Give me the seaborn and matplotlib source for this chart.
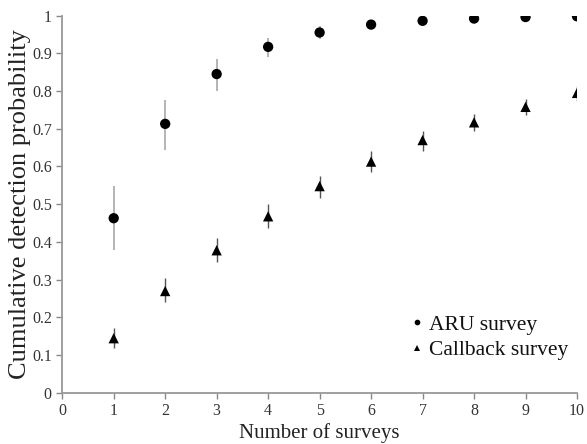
import numpy as np
import pandas as pd
import seaborn as sns
import matplotlib.pyplot as plt

# data
surveys = [1, 2, 3, 4, 5, 6, 7, 8, 9, 10]
aru_p = [0.463, 0.713, 0.845, 0.917, 0.955, 0.976, 0.986, 0.992, 0.996, 0.998]
aru_lo = [0.378, 0.645, 0.800, 0.890, 0.937, 0.966, 0.980, 0.988, 0.994, 0.997]
aru_hi = [0.549, 0.775, 0.885, 0.940, 0.971, 0.984, 0.991, 0.995, 0.998, 0.999]
call_p = [0.145, 0.270, 0.378, 0.468, 0.548, 0.613, 0.670, 0.717, 0.758, 0.795]
call_lo = [0.120, 0.240, 0.348, 0.438, 0.517, 0.585, 0.641, 0.694, 0.736, 0.774]
call_hi = [0.172, 0.305, 0.410, 0.500, 0.575, 0.640, 0.694, 0.740, 0.780, 0.814]

df = pd.DataFrame({
    'surveys': surveys * 2,
    'p': aru_p + call_p,
    'survey': ['ARU survey'] * 10 + ['Callback survey'] * 10,
})

sns.set_style("white")
plt.rcParams['font.family'] = ['Liberation Serif', 'DejaVu Serif']

fig = plt.figure(figsize=(5.87, 4.44), dpi=100)
ax = fig.add_axes([0.106, 0.115, 0.877, 0.85])

# error bars
ax.errorbar(surveys, aru_p,
            yerr=[np.array(aru_p) - np.array(aru_lo), np.array(aru_hi) - np.array(aru_p)],
            fmt='none', ecolor='#a8a8a8', elinewidth=1.2, capsize=0, zorder=1)
ax.errorbar(surveys, call_p,
            yerr=[np.array(call_p) - np.array(call_lo), np.array(call_hi) - np.array(call_p)],
            fmt='none', ecolor='#555555', elinewidth=1.0, capsize=0, zorder=1)

sns.scatterplot(data=df, x='surveys', y='p', style='survey',
                markers={'ARU survey': 'o', 'Callback survey': '^'},
                color='black', s=55, edgecolor='black', linewidth=0, ax=ax, zorder=3)

ax.set_xlim(0, 10)
ax.set_ylim(0, 1)
ax.set_xticks(range(0, 11))
ax.set_yticks(np.arange(0, 1.01, 0.1))
ax.set_yticklabels(['0', '0.1', '0.2', '0.3', '0.4', '0.5', '0.6', '0.7', '0.8', '0.9', '1'])
ax.tick_params(axis='both', direction='out', length=4, width=1, color='#888888',
               labelsize=11.5, labelcolor='#333333', left=True, bottom=True)

for side in ['top', 'right']:
    ax.spines[side].set_visible(False)
for side in ['left', 'bottom']:
    ax.spines[side].set_color('#999999')
    ax.spines[side].set_linewidth(1.3)

ax.set_xlabel('Number of surveys', fontsize=15, color='#222222', labelpad=3)
ax.set_ylabel('Cumulative detection probability', fontsize=19, color='#222222')
ax.yaxis.set_label_coords(-0.06, 0.5)

leg = ax.legend(title=None, loc='lower right', bbox_to_anchor=(1.02, 0.035),
                frameon=False, fontsize=15.5, markerscale=0.55,
                handletextpad=-0.2, labelspacing=0.25, handlelength=1.5)
for t in leg.get_texts():
    t.set_color('#111111')

fig.savefig('out.png', dpi=100)
